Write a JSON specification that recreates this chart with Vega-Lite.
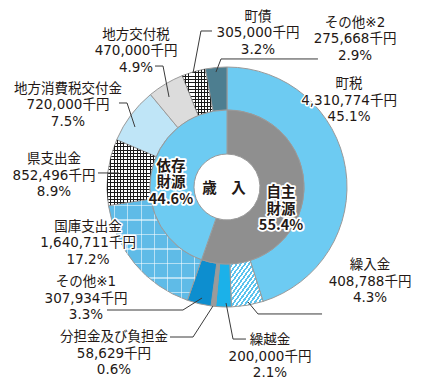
{
  "$schema": "https://vega.github.io/schema/vega-lite/v6.json",
  "width": 392,
  "height": 374,
  "autosize": {"type": "none"},
  "padding": {"left": 31, "top": 0, "right": 0, "bottom": 15},
  "background": "white",
  "config": {"view": {"stroke": null}, "font": "DejaVu Sans, Noto Sans CJK JP"},
  "datasets": {
    "inner": [
      {"group": "自主財源", "amount": 5286125, "i": 1},
      {"group": "依存財源", "amount": 4263875, "i": 2}
    ],
    "outer": [
      {"name": "町税", "amount": 4310774, "i": 1},
      {"name": "繰入金", "amount": 408788, "i": 2},
      {"name": "繰越金", "amount": 200000, "i": 3},
      {"name": "分担金及び負担金", "amount": 58629, "i": 4},
      {"name": "その他※1", "amount": 307934, "i": 5},
      {"name": "国庫支出金", "amount": 1640711, "i": 6},
      {"name": "県支出金", "amount": 852496, "i": 7},
      {"name": "地方消費税交付金", "amount": 720000, "i": 8},
      {"name": "地方交付税", "amount": 470000, "i": 9},
      {"name": "町債", "amount": 305000, "i": 10},
      {"name": "その他※2", "amount": 275668, "i": 11}
    ],
    "labels": [
      {"label": ["町債", "305,000千円", "3.2%"], "lx": 0.258, "ly": 1.417},
      {"label": ["その他※2", "275,668千円", "2.9%"], "lx": 1.067, "ly": 1.367},
      {"label": ["町税", "4,310,774千円", "45.1%"], "lx": 1.017, "ly": 0.858},
      {"label": ["地方交付税", "470,000千円", "4.9%"], "lx": -0.758, "ly": 1.267},
      {"label": ["地方消費税交付金", "720,000千円", "7.5%"], "lx": -1.325, "ly": 0.817},
      {"label": ["県支出金", "852,496千円", "8.9%"], "lx": -1.442, "ly": 0.233},
      {"label": ["国庫支出金", "1,640,711千円", "17.2%"], "lx": -1.158, "ly": -0.333},
      {"label": ["その他※1", "307,934千円", "3.3%"], "lx": -1.175, "ly": -0.792},
      {"label": ["分担金及び負担金", "58,629千円", "0.6%"], "lx": -0.942, "ly": -1.25},
      {"label": ["繰越金", "200,000千円", "2.1%"], "lx": 0.358, "ly": -1.275},
      {"label": ["繰入金", "408,788千円", "4.3%"], "lx": 1.192, "ly": -0.65}
    ],
    "center": [
      {"label": ["歳　入"], "lx": -0.025, "ly": -0.017},
      {"label": ["依存", "財源", "44.6%"], "lx": -0.467, "ly": 0.17},
      {"label": ["自主", "財源", "55.4%"], "lx": 0.45, "ly": -0.05}
    ],
    "leaders": [
      {"id": "町債", "k": 1, "lx": -0.125, "ly": 1.3},
      {"id": "町債", "k": 2, "lx": -0.217, "ly": 1.3},
      {"id": "町債", "k": 3, "lx": -0.283, "ly": 0.95},
      {"id": "その他2", "k": 1, "lx": 0.758, "ly": 1.067},
      {"id": "その他2", "k": 2, "lx": -0.05, "ly": 1.067},
      {"id": "その他2", "k": 3, "lx": -0.092, "ly": 0.958},
      {"id": "地方交付税", "k": 1, "lx": -0.6, "ly": 1.008},
      {"id": "地方交付税", "k": 2, "lx": -0.533, "ly": 1.008},
      {"id": "地方交付税", "k": 3, "lx": -0.483, "ly": 0.75},
      {"id": "地方消費税交付金", "k": 1, "lx": -0.9, "ly": 0.7},
      {"id": "地方消費税交付金", "k": 2, "lx": -0.833, "ly": 0.7},
      {"id": "地方消費税交付金", "k": 3, "lx": -0.767, "ly": 0.5},
      {"id": "県支出金", "k": 1, "lx": -1.075, "ly": 0.117},
      {"id": "県支出金", "k": 2, "lx": -0.9, "ly": 0.117},
      {"id": "その他1", "k": 1, "lx": -1.0, "ly": -1.025},
      {"id": "その他1", "k": 2, "lx": -0.367, "ly": -1.025},
      {"id": "その他1", "k": 3, "lx": -0.208, "ly": -0.925},
      {"id": "分担金", "k": 1, "lx": -0.475, "ly": -1.25},
      {"id": "分担金", "k": 2, "lx": -0.283, "ly": -1.25},
      {"id": "分担金", "k": 3, "lx": -0.117, "ly": -0.992},
      {"id": "繰越金", "k": 1, "lx": 0.158, "ly": -1.267},
      {"id": "繰越金", "k": 2, "lx": 0.05, "ly": -1.267},
      {"id": "繰越金", "k": 3, "lx": -0.008, "ly": -0.967},
      {"id": "繰入金", "k": 1, "lx": 0.792, "ly": -1.058},
      {"id": "繰入金", "k": 2, "lx": 0.258, "ly": -1.058},
      {"id": "繰入金", "k": 3, "lx": 0.175, "ly": -0.958}
    ]
  },
  "layer": [
    {
      "data": {"name": "outer"},
      "mark": {"type": "arc", "innerRadius": 77, "outerRadius": 120, "stroke": "#9a9a9a", "strokeWidth": 1},
      "encoding": {
        "theta": {"field": "amount", "type": "quantitative", "stack": true},
        "order": {"field": "i", "type": "quantitative"},
        "color": {
          "condition": [
            {
              "test": "datum.name === '繰入金'",
              "value": {
                "gradient": "linear", "x1": 0, "y1": 0, "x2": 1, "y2": 1,
                "stops": [
                  {"offset": 0, "color": "#5cc3ee"}, {"offset": 0.03125, "color": "#5cc3ee"}, {"offset": 0.03125, "color": "#ffffff"}, {"offset": 0.0625, "color": "#ffffff"},
                  {"offset": 0.0625, "color": "#5cc3ee"}, {"offset": 0.09375, "color": "#5cc3ee"}, {"offset": 0.09375, "color": "#ffffff"}, {"offset": 0.125, "color": "#ffffff"},
                  {"offset": 0.125, "color": "#5cc3ee"}, {"offset": 0.15625, "color": "#5cc3ee"}, {"offset": 0.15625, "color": "#ffffff"}, {"offset": 0.1875, "color": "#ffffff"},
                  {"offset": 0.1875, "color": "#5cc3ee"}, {"offset": 0.21875, "color": "#5cc3ee"}, {"offset": 0.21875, "color": "#ffffff"}, {"offset": 0.25, "color": "#ffffff"},
                  {"offset": 0.25, "color": "#5cc3ee"}, {"offset": 0.28125, "color": "#5cc3ee"}, {"offset": 0.28125, "color": "#ffffff"}, {"offset": 0.3125, "color": "#ffffff"},
                  {"offset": 0.3125, "color": "#5cc3ee"}, {"offset": 0.34375, "color": "#5cc3ee"}, {"offset": 0.34375, "color": "#ffffff"}, {"offset": 0.375, "color": "#ffffff"},
                  {"offset": 0.375, "color": "#5cc3ee"}, {"offset": 0.40625, "color": "#5cc3ee"}, {"offset": 0.40625, "color": "#ffffff"}, {"offset": 0.4375, "color": "#ffffff"},
                  {"offset": 0.4375, "color": "#5cc3ee"}, {"offset": 0.46875, "color": "#5cc3ee"}, {"offset": 0.46875, "color": "#ffffff"}, {"offset": 0.5, "color": "#ffffff"},
                  {"offset": 0.5, "color": "#5cc3ee"}, {"offset": 0.53125, "color": "#5cc3ee"}, {"offset": 0.53125, "color": "#ffffff"}, {"offset": 0.5625, "color": "#ffffff"},
                  {"offset": 0.5625, "color": "#5cc3ee"}, {"offset": 0.59375, "color": "#5cc3ee"}, {"offset": 0.59375, "color": "#ffffff"}, {"offset": 0.625, "color": "#ffffff"},
                  {"offset": 0.625, "color": "#5cc3ee"}, {"offset": 0.65625, "color": "#5cc3ee"}, {"offset": 0.65625, "color": "#ffffff"}, {"offset": 0.6875, "color": "#ffffff"},
                  {"offset": 0.6875, "color": "#5cc3ee"}, {"offset": 0.71875, "color": "#5cc3ee"}, {"offset": 0.71875, "color": "#ffffff"}, {"offset": 0.75, "color": "#ffffff"},
                  {"offset": 0.75, "color": "#5cc3ee"}, {"offset": 0.78125, "color": "#5cc3ee"}, {"offset": 0.78125, "color": "#ffffff"}, {"offset": 0.8125, "color": "#ffffff"},
                  {"offset": 0.8125, "color": "#5cc3ee"}, {"offset": 0.84375, "color": "#5cc3ee"}, {"offset": 0.84375, "color": "#ffffff"}, {"offset": 0.875, "color": "#ffffff"},
                  {"offset": 0.875, "color": "#5cc3ee"}, {"offset": 0.90625, "color": "#5cc3ee"}, {"offset": 0.90625, "color": "#ffffff"}, {"offset": 0.9375, "color": "#ffffff"},
                  {"offset": 0.9375, "color": "#5cc3ee"}, {"offset": 0.96875, "color": "#5cc3ee"}, {"offset": 0.96875, "color": "#ffffff"}, {"offset": 1, "color": "#ffffff"}
                ]
              }
            },
            {
              "test": "datum.name === '国庫支出金'",
              "value": {
                "gradient": "linear", "x1": 0, "y1": 0, "x2": 0, "y2": 1,
                "stops": [
                  {"offset": 0, "color": "#5fbbe7"},
                  {"offset": 0.06, "color": "#5fbbe7"}, {"offset": 0.06, "color": "#b5e0f4"}, {"offset": 0.072, "color": "#b5e0f4"}, {"offset": 0.072, "color": "#5fbbe7"},
                  {"offset": 0.2029, "color": "#5fbbe7"}, {"offset": 0.2029, "color": "#b5e0f4"}, {"offset": 0.2149, "color": "#b5e0f4"}, {"offset": 0.2149, "color": "#5fbbe7"},
                  {"offset": 0.3457, "color": "#5fbbe7"}, {"offset": 0.3457, "color": "#b5e0f4"}, {"offset": 0.3577, "color": "#b5e0f4"}, {"offset": 0.3577, "color": "#5fbbe7"},
                  {"offset": 0.4886, "color": "#5fbbe7"}, {"offset": 0.4886, "color": "#b5e0f4"}, {"offset": 0.5006, "color": "#b5e0f4"}, {"offset": 0.5006, "color": "#5fbbe7"},
                  {"offset": 0.6314, "color": "#5fbbe7"}, {"offset": 0.6314, "color": "#b5e0f4"}, {"offset": 0.6434, "color": "#b5e0f4"}, {"offset": 0.6434, "color": "#5fbbe7"},
                  {"offset": 0.7743, "color": "#5fbbe7"}, {"offset": 0.7743, "color": "#b5e0f4"}, {"offset": 0.7863, "color": "#b5e0f4"}, {"offset": 0.7863, "color": "#5fbbe7"},
                  {"offset": 0.9171, "color": "#5fbbe7"}, {"offset": 0.9171, "color": "#b5e0f4"}, {"offset": 0.9291, "color": "#b5e0f4"}, {"offset": 0.9291, "color": "#5fbbe7"},
                  {"offset": 1, "color": "#5fbbe7"}
                ]
              }
            },
            {
              "test": "datum.name === '県支出金'",
              "value": {
                "gradient": "linear", "x1": 0, "y1": 0, "x2": 0, "y2": 1,
                "stops": [
                  {"offset": 0, "color": "#1a1a1a"}, {"offset": 0.015, "color": "#1a1a1a"}, {"offset": 0.015, "color": "#ffffff"}, {"offset": 0.05, "color": "#ffffff"},
                  {"offset": 0.05, "color": "#1a1a1a"}, {"offset": 0.065, "color": "#1a1a1a"}, {"offset": 0.065, "color": "#ffffff"}, {"offset": 0.1, "color": "#ffffff"},
                  {"offset": 0.1, "color": "#1a1a1a"}, {"offset": 0.115, "color": "#1a1a1a"}, {"offset": 0.115, "color": "#ffffff"}, {"offset": 0.15, "color": "#ffffff"},
                  {"offset": 0.15, "color": "#1a1a1a"}, {"offset": 0.165, "color": "#1a1a1a"}, {"offset": 0.165, "color": "#ffffff"}, {"offset": 0.2, "color": "#ffffff"},
                  {"offset": 0.2, "color": "#1a1a1a"}, {"offset": 0.215, "color": "#1a1a1a"}, {"offset": 0.215, "color": "#ffffff"}, {"offset": 0.25, "color": "#ffffff"},
                  {"offset": 0.25, "color": "#1a1a1a"}, {"offset": 0.265, "color": "#1a1a1a"}, {"offset": 0.265, "color": "#ffffff"}, {"offset": 0.3, "color": "#ffffff"},
                  {"offset": 0.3, "color": "#1a1a1a"}, {"offset": 0.315, "color": "#1a1a1a"}, {"offset": 0.315, "color": "#ffffff"}, {"offset": 0.35, "color": "#ffffff"},
                  {"offset": 0.35, "color": "#1a1a1a"}, {"offset": 0.365, "color": "#1a1a1a"}, {"offset": 0.365, "color": "#ffffff"}, {"offset": 0.4, "color": "#ffffff"},
                  {"offset": 0.4, "color": "#1a1a1a"}, {"offset": 0.415, "color": "#1a1a1a"}, {"offset": 0.415, "color": "#ffffff"}, {"offset": 0.45, "color": "#ffffff"},
                  {"offset": 0.45, "color": "#1a1a1a"}, {"offset": 0.465, "color": "#1a1a1a"}, {"offset": 0.465, "color": "#ffffff"}, {"offset": 0.5, "color": "#ffffff"},
                  {"offset": 0.5, "color": "#1a1a1a"}, {"offset": 0.515, "color": "#1a1a1a"}, {"offset": 0.515, "color": "#ffffff"}, {"offset": 0.55, "color": "#ffffff"},
                  {"offset": 0.55, "color": "#1a1a1a"}, {"offset": 0.565, "color": "#1a1a1a"}, {"offset": 0.565, "color": "#ffffff"}, {"offset": 0.6, "color": "#ffffff"},
                  {"offset": 0.6, "color": "#1a1a1a"}, {"offset": 0.615, "color": "#1a1a1a"}, {"offset": 0.615, "color": "#ffffff"}, {"offset": 0.65, "color": "#ffffff"},
                  {"offset": 0.65, "color": "#1a1a1a"}, {"offset": 0.665, "color": "#1a1a1a"}, {"offset": 0.665, "color": "#ffffff"}, {"offset": 0.7, "color": "#ffffff"},
                  {"offset": 0.7, "color": "#1a1a1a"}, {"offset": 0.715, "color": "#1a1a1a"}, {"offset": 0.715, "color": "#ffffff"}, {"offset": 0.75, "color": "#ffffff"},
                  {"offset": 0.75, "color": "#1a1a1a"}, {"offset": 0.765, "color": "#1a1a1a"}, {"offset": 0.765, "color": "#ffffff"}, {"offset": 0.8, "color": "#ffffff"},
                  {"offset": 0.8, "color": "#1a1a1a"}, {"offset": 0.815, "color": "#1a1a1a"}, {"offset": 0.815, "color": "#ffffff"}, {"offset": 0.85, "color": "#ffffff"},
                  {"offset": 0.85, "color": "#1a1a1a"}, {"offset": 0.865, "color": "#1a1a1a"}, {"offset": 0.865, "color": "#ffffff"}, {"offset": 0.9, "color": "#ffffff"},
                  {"offset": 0.9, "color": "#1a1a1a"}, {"offset": 0.915, "color": "#1a1a1a"}, {"offset": 0.915, "color": "#ffffff"}, {"offset": 0.95, "color": "#ffffff"},
                  {"offset": 0.95, "color": "#1a1a1a"}, {"offset": 0.965, "color": "#1a1a1a"}, {"offset": 0.965, "color": "#ffffff"}, {"offset": 1, "color": "#ffffff"}
                ]
              }
            },
            {
              "test": "datum.name === '町債'",
              "value": {
                "gradient": "linear", "x1": 0, "y1": 0, "x2": 0, "y2": 1,
                "stops": [
                  {"offset": 0, "color": "#1a1a1a"}, {"offset": 0.0214, "color": "#1a1a1a"}, {"offset": 0.0214, "color": "#ffffff"}, {"offset": 0.0714, "color": "#ffffff"},
                  {"offset": 0.0714, "color": "#1a1a1a"}, {"offset": 0.0929, "color": "#1a1a1a"}, {"offset": 0.0929, "color": "#ffffff"}, {"offset": 0.1429, "color": "#ffffff"},
                  {"offset": 0.1429, "color": "#1a1a1a"}, {"offset": 0.1643, "color": "#1a1a1a"}, {"offset": 0.1643, "color": "#ffffff"}, {"offset": 0.2143, "color": "#ffffff"},
                  {"offset": 0.2143, "color": "#1a1a1a"}, {"offset": 0.2357, "color": "#1a1a1a"}, {"offset": 0.2357, "color": "#ffffff"}, {"offset": 0.2857, "color": "#ffffff"},
                  {"offset": 0.2857, "color": "#1a1a1a"}, {"offset": 0.3071, "color": "#1a1a1a"}, {"offset": 0.3071, "color": "#ffffff"}, {"offset": 0.3571, "color": "#ffffff"},
                  {"offset": 0.3571, "color": "#1a1a1a"}, {"offset": 0.3786, "color": "#1a1a1a"}, {"offset": 0.3786, "color": "#ffffff"}, {"offset": 0.4286, "color": "#ffffff"},
                  {"offset": 0.4286, "color": "#1a1a1a"}, {"offset": 0.45, "color": "#1a1a1a"}, {"offset": 0.45, "color": "#ffffff"}, {"offset": 0.5, "color": "#ffffff"},
                  {"offset": 0.5, "color": "#1a1a1a"}, {"offset": 0.5214, "color": "#1a1a1a"}, {"offset": 0.5214, "color": "#ffffff"}, {"offset": 0.5714, "color": "#ffffff"},
                  {"offset": 0.5714, "color": "#1a1a1a"}, {"offset": 0.5929, "color": "#1a1a1a"}, {"offset": 0.5929, "color": "#ffffff"}, {"offset": 0.6429, "color": "#ffffff"},
                  {"offset": 0.6429, "color": "#1a1a1a"}, {"offset": 0.6643, "color": "#1a1a1a"}, {"offset": 0.6643, "color": "#ffffff"}, {"offset": 0.7143, "color": "#ffffff"},
                  {"offset": 0.7143, "color": "#1a1a1a"}, {"offset": 0.7357, "color": "#1a1a1a"}, {"offset": 0.7357, "color": "#ffffff"}, {"offset": 0.7857, "color": "#ffffff"},
                  {"offset": 0.7857, "color": "#1a1a1a"}, {"offset": 0.8071, "color": "#1a1a1a"}, {"offset": 0.8071, "color": "#ffffff"}, {"offset": 0.8571, "color": "#ffffff"},
                  {"offset": 0.8571, "color": "#1a1a1a"}, {"offset": 0.8786, "color": "#1a1a1a"}, {"offset": 0.8786, "color": "#ffffff"}, {"offset": 0.9286, "color": "#ffffff"},
                  {"offset": 0.9286, "color": "#1a1a1a"}, {"offset": 0.95, "color": "#1a1a1a"}, {"offset": 0.95, "color": "#ffffff"}, {"offset": 1, "color": "#ffffff"}
                ]
              }
            }
          ],
          "field": "name",
          "type": "nominal",
          "scale": {
            "domain": ["町税", "繰入金", "繰越金", "分担金及び負担金", "その他※1", "国庫支出金", "県支出金", "地方消費税交付金", "地方交付税", "町債", "その他※2"],
            "range": ["#6dcbf2", "#b8e3f6", "#1bb1e9", "#9b9b9b", "#0d8ecf", "#5fbbe7", "#8e8e8e", "#bfe5f7", "#dcdcdc", "#8a8a8a", "#4d7e90"]
          },
          "legend": null
        }
      }
    },
    {
      "data": {"name": "outer"},
      "mark": {"type": "arc", "innerRadius": 77, "outerRadius": 120},
      "encoding": {
        "theta": {"field": "amount", "type": "quantitative", "stack": true},
        "order": {"field": "i", "type": "quantitative"},
        "color": {
          "condition": [
            {
              "test": "datum.name === '国庫支出金'",
              "value": {
                "gradient": "linear", "x1": 0, "y1": 0, "x2": 1, "y2": 0,
                "stops": [
                  {"offset": 0, "color": "rgba(255,255,255,0)"},
                  {"offset": 0.06, "color": "rgba(255,255,255,0)"}, {"offset": 0.06, "color": "rgba(255,255,255,0.55)"}, {"offset": 0.072, "color": "rgba(255,255,255,0.55)"}, {"offset": 0.072, "color": "rgba(255,255,255,0)"},
                  {"offset": 0.2029, "color": "rgba(255,255,255,0)"}, {"offset": 0.2029, "color": "rgba(255,255,255,0.55)"}, {"offset": 0.2149, "color": "rgba(255,255,255,0.55)"}, {"offset": 0.2149, "color": "rgba(255,255,255,0)"},
                  {"offset": 0.3457, "color": "rgba(255,255,255,0)"}, {"offset": 0.3457, "color": "rgba(255,255,255,0.55)"}, {"offset": 0.3577, "color": "rgba(255,255,255,0.55)"}, {"offset": 0.3577, "color": "rgba(255,255,255,0)"},
                  {"offset": 0.4886, "color": "rgba(255,255,255,0)"}, {"offset": 0.4886, "color": "rgba(255,255,255,0.55)"}, {"offset": 0.5006, "color": "rgba(255,255,255,0.55)"}, {"offset": 0.5006, "color": "rgba(255,255,255,0)"},
                  {"offset": 0.6314, "color": "rgba(255,255,255,0)"}, {"offset": 0.6314, "color": "rgba(255,255,255,0.55)"}, {"offset": 0.6434, "color": "rgba(255,255,255,0.55)"}, {"offset": 0.6434, "color": "rgba(255,255,255,0)"},
                  {"offset": 0.7743, "color": "rgba(255,255,255,0)"}, {"offset": 0.7743, "color": "rgba(255,255,255,0.55)"}, {"offset": 0.7863, "color": "rgba(255,255,255,0.55)"}, {"offset": 0.7863, "color": "rgba(255,255,255,0)"},
                  {"offset": 0.9171, "color": "rgba(255,255,255,0)"}, {"offset": 0.9171, "color": "rgba(255,255,255,0.55)"}, {"offset": 0.9291, "color": "rgba(255,255,255,0.55)"}, {"offset": 0.9291, "color": "rgba(255,255,255,0)"},
                  {"offset": 1, "color": "rgba(255,255,255,0)"}
                ]
              }
            },
            {
              "test": "datum.name === '県支出金'",
              "value": {
                "gradient": "linear", "x1": 0, "y1": 0, "x2": 1, "y2": 0,
                "stops": [
                  {"offset": 0, "color": "rgba(26,26,26,1)"}, {"offset": 0.02, "color": "rgba(26,26,26,1)"}, {"offset": 0.02, "color": "rgba(255,255,255,0)"}, {"offset": 0.0667, "color": "rgba(255,255,255,0)"},
                  {"offset": 0.0667, "color": "rgba(26,26,26,1)"}, {"offset": 0.0867, "color": "rgba(26,26,26,1)"}, {"offset": 0.0867, "color": "rgba(255,255,255,0)"}, {"offset": 0.1333, "color": "rgba(255,255,255,0)"},
                  {"offset": 0.1333, "color": "rgba(26,26,26,1)"}, {"offset": 0.1533, "color": "rgba(26,26,26,1)"}, {"offset": 0.1533, "color": "rgba(255,255,255,0)"}, {"offset": 0.2, "color": "rgba(255,255,255,0)"},
                  {"offset": 0.2, "color": "rgba(26,26,26,1)"}, {"offset": 0.22, "color": "rgba(26,26,26,1)"}, {"offset": 0.22, "color": "rgba(255,255,255,0)"}, {"offset": 0.2667, "color": "rgba(255,255,255,0)"},
                  {"offset": 0.2667, "color": "rgba(26,26,26,1)"}, {"offset": 0.2867, "color": "rgba(26,26,26,1)"}, {"offset": 0.2867, "color": "rgba(255,255,255,0)"}, {"offset": 0.3333, "color": "rgba(255,255,255,0)"},
                  {"offset": 0.3333, "color": "rgba(26,26,26,1)"}, {"offset": 0.3533, "color": "rgba(26,26,26,1)"}, {"offset": 0.3533, "color": "rgba(255,255,255,0)"}, {"offset": 0.4, "color": "rgba(255,255,255,0)"},
                  {"offset": 0.4, "color": "rgba(26,26,26,1)"}, {"offset": 0.42, "color": "rgba(26,26,26,1)"}, {"offset": 0.42, "color": "rgba(255,255,255,0)"}, {"offset": 0.4667, "color": "rgba(255,255,255,0)"},
                  {"offset": 0.4667, "color": "rgba(26,26,26,1)"}, {"offset": 0.4867, "color": "rgba(26,26,26,1)"}, {"offset": 0.4867, "color": "rgba(255,255,255,0)"}, {"offset": 0.5333, "color": "rgba(255,255,255,0)"},
                  {"offset": 0.5333, "color": "rgba(26,26,26,1)"}, {"offset": 0.5533, "color": "rgba(26,26,26,1)"}, {"offset": 0.5533, "color": "rgba(255,255,255,0)"}, {"offset": 0.6, "color": "rgba(255,255,255,0)"},
                  {"offset": 0.6, "color": "rgba(26,26,26,1)"}, {"offset": 0.62, "color": "rgba(26,26,26,1)"}, {"offset": 0.62, "color": "rgba(255,255,255,0)"}, {"offset": 0.6667, "color": "rgba(255,255,255,0)"},
                  {"offset": 0.6667, "color": "rgba(26,26,26,1)"}, {"offset": 0.6867, "color": "rgba(26,26,26,1)"}, {"offset": 0.6867, "color": "rgba(255,255,255,0)"}, {"offset": 0.7333, "color": "rgba(255,255,255,0)"},
                  {"offset": 0.7333, "color": "rgba(26,26,26,1)"}, {"offset": 0.7533, "color": "rgba(26,26,26,1)"}, {"offset": 0.7533, "color": "rgba(255,255,255,0)"}, {"offset": 0.8, "color": "rgba(255,255,255,0)"},
                  {"offset": 0.8, "color": "rgba(26,26,26,1)"}, {"offset": 0.82, "color": "rgba(26,26,26,1)"}, {"offset": 0.82, "color": "rgba(255,255,255,0)"}, {"offset": 0.8667, "color": "rgba(255,255,255,0)"},
                  {"offset": 0.8667, "color": "rgba(26,26,26,1)"}, {"offset": 0.8867, "color": "rgba(26,26,26,1)"}, {"offset": 0.8867, "color": "rgba(255,255,255,0)"}, {"offset": 0.9333, "color": "rgba(255,255,255,0)"},
                  {"offset": 0.9333, "color": "rgba(26,26,26,1)"}, {"offset": 0.9533, "color": "rgba(26,26,26,1)"}, {"offset": 0.9533, "color": "rgba(255,255,255,0)"}, {"offset": 1, "color": "rgba(255,255,255,0)"}
                ]
              }
            },
            {
              "test": "datum.name === '町債'",
              "value": {
                "gradient": "linear", "x1": 0, "y1": 0, "x2": 1, "y2": 0,
                "stops": [
                  {"offset": 0, "color": "rgba(26,26,26,1)"}, {"offset": 0.03, "color": "rgba(26,26,26,1)"}, {"offset": 0.03, "color": "rgba(255,255,255,0)"}, {"offset": 0.1, "color": "rgba(255,255,255,0)"},
                  {"offset": 0.1, "color": "rgba(26,26,26,1)"}, {"offset": 0.13, "color": "rgba(26,26,26,1)"}, {"offset": 0.13, "color": "rgba(255,255,255,0)"}, {"offset": 0.2, "color": "rgba(255,255,255,0)"},
                  {"offset": 0.2, "color": "rgba(26,26,26,1)"}, {"offset": 0.23, "color": "rgba(26,26,26,1)"}, {"offset": 0.23, "color": "rgba(255,255,255,0)"}, {"offset": 0.3, "color": "rgba(255,255,255,0)"},
                  {"offset": 0.3, "color": "rgba(26,26,26,1)"}, {"offset": 0.33, "color": "rgba(26,26,26,1)"}, {"offset": 0.33, "color": "rgba(255,255,255,0)"}, {"offset": 0.4, "color": "rgba(255,255,255,0)"},
                  {"offset": 0.4, "color": "rgba(26,26,26,1)"}, {"offset": 0.43, "color": "rgba(26,26,26,1)"}, {"offset": 0.43, "color": "rgba(255,255,255,0)"}, {"offset": 0.5, "color": "rgba(255,255,255,0)"},
                  {"offset": 0.5, "color": "rgba(26,26,26,1)"}, {"offset": 0.53, "color": "rgba(26,26,26,1)"}, {"offset": 0.53, "color": "rgba(255,255,255,0)"}, {"offset": 0.6, "color": "rgba(255,255,255,0)"},
                  {"offset": 0.6, "color": "rgba(26,26,26,1)"}, {"offset": 0.63, "color": "rgba(26,26,26,1)"}, {"offset": 0.63, "color": "rgba(255,255,255,0)"}, {"offset": 0.7, "color": "rgba(255,255,255,0)"},
                  {"offset": 0.7, "color": "rgba(26,26,26,1)"}, {"offset": 0.73, "color": "rgba(26,26,26,1)"}, {"offset": 0.73, "color": "rgba(255,255,255,0)"}, {"offset": 0.8, "color": "rgba(255,255,255,0)"},
                  {"offset": 0.8, "color": "rgba(26,26,26,1)"}, {"offset": 0.83, "color": "rgba(26,26,26,1)"}, {"offset": 0.83, "color": "rgba(255,255,255,0)"}, {"offset": 0.9, "color": "rgba(255,255,255,0)"},
                  {"offset": 0.9, "color": "rgba(26,26,26,1)"}, {"offset": 0.93, "color": "rgba(26,26,26,1)"}, {"offset": 0.93, "color": "rgba(255,255,255,0)"}, {"offset": 1, "color": "rgba(255,255,255,0)"}
                ]
              }
            }
          ],
          "value": "transparent"
        }
      }
    },
    {
      "data": {"name": "inner"},
      "mark": {"type": "arc", "innerRadius": 33, "outerRadius": 77, "stroke": "#9a9a9a", "strokeWidth": 1},
      "encoding": {
        "theta": {"field": "amount", "type": "quantitative", "stack": true},
        "order": {"field": "i", "type": "quantitative"},
        "color": {
          "field": "group",
          "type": "nominal",
          "scale": {"domain": ["自主財源", "依存財源"], "range": ["#8f8f8f", "#6dcbf2"]},
          "legend": null
        }
      }
    },
    {
      "data": {"name": "leaders"},
      "mark": {"type": "line", "color": "#3a3a3a", "strokeWidth": 1},
      "encoding": {
        "x": {"field": "lx", "type": "quantitative", "scale": {"domain": [-1.6333, 1.6333], "nice": false, "zero": false}, "axis": null},
        "y": {"field": "ly", "type": "quantitative", "scale": {"domain": [-1.5583, 1.5583], "nice": false, "zero": false}, "axis": null},
        "detail": {"field": "id", "type": "nominal"},
        "order": {"field": "k", "type": "quantitative"}
      }
    },
    {
      "data": {"name": "labels"},
      "mark": {"type": "text", "fontSize": 13.5, "lineHeight": 16.5, "baseline": "middle", "align": "center", "stroke": "white", "strokeWidth": 3, "strokeJoin": "round", "fill": "white"},
      "encoding": {
        "x": {"field": "lx", "type": "quantitative"},
        "y": {"field": "ly", "type": "quantitative"},
        "text": {"field": "label"}
      }
    },
    {
      "data": {"name": "labels"},
      "mark": {"type": "text", "fontSize": 13.5, "lineHeight": 16.5, "baseline": "middle", "align": "center", "fill": "#231815"},
      "encoding": {
        "x": {"field": "lx", "type": "quantitative"},
        "y": {"field": "ly", "type": "quantitative"},
        "text": {"field": "label"}
      }
    },
    {
      "data": {"name": "center"},
      "mark": {"type": "text", "fontSize": 14.5, "fontWeight": "bold", "lineHeight": 16.5, "baseline": "middle", "align": "center", "stroke": "white", "strokeWidth": 3.5, "strokeJoin": "round", "fill": "white", "font": "Noto Sans CJK JP"},
      "encoding": {
        "x": {"field": "lx", "type": "quantitative"},
        "y": {"field": "ly", "type": "quantitative"},
        "text": {"field": "label"}
      }
    },
    {
      "data": {"name": "center"},
      "mark": {"type": "text", "fontSize": 14.5, "fontWeight": "bold", "lineHeight": 16.5, "baseline": "middle", "align": "center", "fill": "#231815", "font": "Noto Sans CJK JP"},
      "encoding": {
        "x": {"field": "lx", "type": "quantitative"},
        "y": {"field": "ly", "type": "quantitative"},
        "text": {"field": "label"}
      }
    }
  ],
  "resolve": {"scale": {"color": "independent", "theta": "independent"}}
}
